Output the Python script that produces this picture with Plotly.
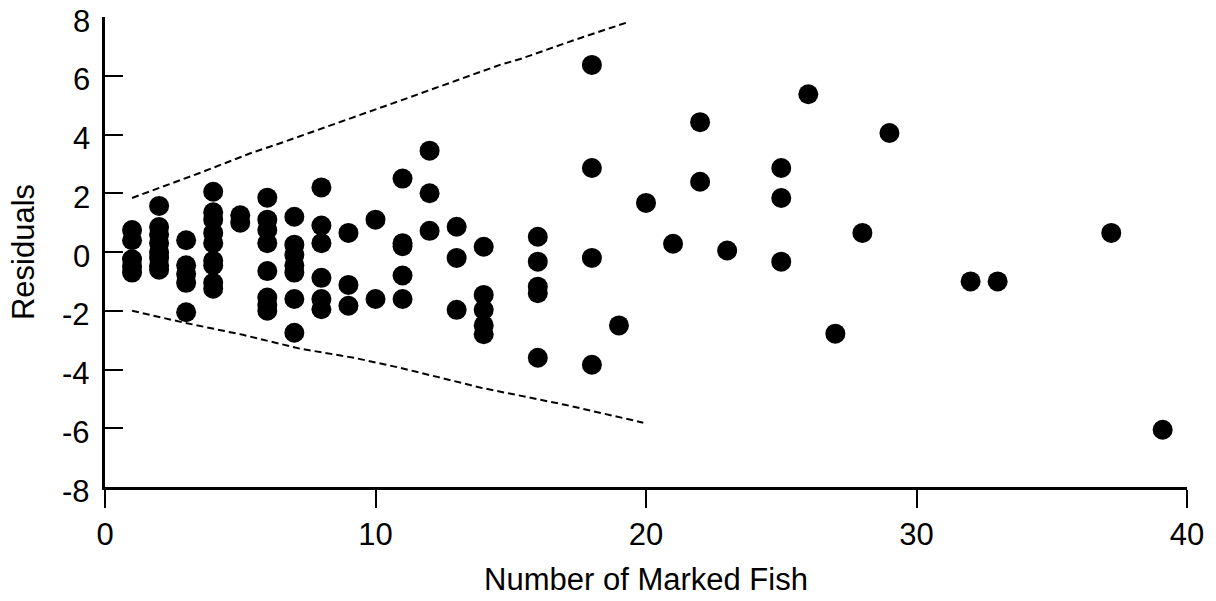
import plotly.graph_objects as go

# Residual points: x = number of marked fish, y = residual
fish_x = (
    [1] * 5 + [2] * 8 + [3] * 5 + [4] * 9 + [5] * 2 + [6] * 8 + [7] * 7 +
    [8] * 6 + [9] * 3 + [10] * 2 + [11] * 5 + [12] * 3 + [13] * 3 + [14] * 5 +
    [16] * 5 + [18] * 4 + [19, 20, 21, 22, 22, 23, 25, 25, 25, 26, 27, 28, 29,
                           32, 33, 37.2, 39.1]
)
residuals = [
    0.75, 0.4, -0.25, -0.5, -0.7,
    1.57, 0.85, 0.6, 0.3, 0.0, -0.2, -0.45, -0.6,
    0.4, -0.45, -0.75, -1.05, -2.05,
    2.05, 1.35, 1.1, 0.65, 0.3, -0.3, -0.45, -1.05, -1.25,
    1.25, 1.0,
    1.85, 1.1, 0.75, 0.3, -0.65, -1.55, -1.8, -2.0,
    1.2, 0.25, -0.1, -0.45, -0.7, -1.6, -2.75,
    2.2, 0.9, 0.3, -0.88, -1.6, -1.95,
    0.65, -1.12, -1.83,
    1.1, -1.6,
    2.5, 0.3, 0.2, -0.8, -1.6,
    3.45, 2.0, 0.72,
    0.86, -0.2, -1.97,
    0.18, -1.46, -1.97, -2.5, -2.8,
    0.52, -0.33, -1.18, -1.4, -3.6,
    6.37, 2.86, -0.2, -3.84,
    -2.5, 1.67, 0.28, 4.42, 2.39, 0.05, 2.86, 1.84, -0.33, 5.37, -2.78, 0.65,
    4.05, -1.0, -1.0, 0.65, -6.05,
]

# Dashed bands
upper_x = [1.0, 3.5, 5.4, 6.5, 11.0, 14.6, 15.35, 17.3, 19.35]
upper_y = [1.84, 2.69, 3.37, 3.71, 5.18, 6.37, 6.57, 7.2, 7.83]
lower_x = [1.0, 2.9, 5.1, 7.2, 9.2, 10.9, 13.9, 17.0, 19.9]
lower_y = [-2.0, -2.4, -2.82, -3.29, -3.6, -3.94, -4.62, -5.2, -5.81]

x_ticks = [0, 10, 20, 30, 40]
x_labels = ["0", "10", "20", "30", "40"]
y_ticks = [-8, -6, -4, -2, 0, 2, 4, 6, 8]
y_labels = ["-8", "-6", "-4", "-2", "0", "2", "4", "6", "8"]

FONT = "Liberation Sans, Arial, sans-serif"

fig = go.Figure()
for bx, by in ((upper_x, upper_y), (lower_x, lower_y)):
    fig.add_trace(go.Scatter(
        x=bx, y=by, mode="lines",
        line=dict(color="black", width=2, dash="7px,4px"),
        showlegend=False, hoverinfo="skip",
    ))
fig.add_trace(go.Scatter(
    x=fish_x, y=residuals, mode="markers",
    marker=dict(color="black", size=20, line=dict(width=0)),
    showlegend=False,
))

# y tick labels (sit a few pixels below their ticks, as in the original)
for val, lab in zip(y_ticks, y_labels):
    fig.add_annotation(
        x=0, xref="paper", y=val, yref="y", text=lab, showarrow=False,
        xanchor="right", yanchor="middle", xshift=-13, yshift=-4,
        font=dict(family=FONT, size=31, color="black"),
    )

fig.update_layout(
    width=1216, height=601,
    margin=dict(l=105, r=29, t=17, b=114),
    paper_bgcolor="white", plot_bgcolor="white",
    font=dict(family=FONT, size=32, color="black"),
    xaxis=dict(
        range=[0, 40], tickvals=x_ticks, ticktext=x_labels,
        ticks="outside", ticklen=18, tickwidth=2, tickcolor="black",
        showline=True, linecolor="black", linewidth=2.5,
        showgrid=False, zeroline=False, automargin=False,
        title=dict(text="Number of Marked Fish", font=dict(size=31), standoff=18),
        tickfont=dict(size=31), ticklabeloverflow="allow",
    ),
    yaxis=dict(
        range=[-8, 8], tickvals=y_ticks, showticklabels=False,
        ticks="inside", ticklen=18, tickwidth=2, tickcolor="black",
        showline=True, linecolor="black", linewidth=2.5,
        showgrid=False, zeroline=False, automargin=False,
        title=dict(text="Residuals", font=dict(size=31), standoff=59),
    ),
)

fig.write_html(
    "out.html",
    config={"displayModeBar": False},
    post_script="document.body.style.margin='0';",
)
